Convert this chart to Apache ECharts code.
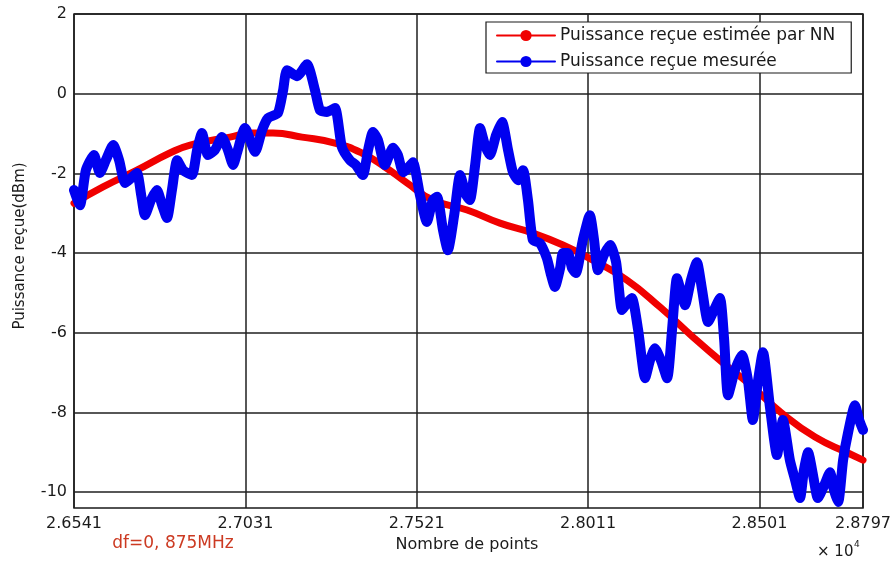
<!DOCTYPE html>
<html>
<head>
<meta charset="utf-8">
<script src="https://cdn.jsdelivr.net/npm/echarts@6/dist/echarts.min.js"></script>
<style>html,body{margin:0;padding:0;background:#fff}#c{width:895px;height:564px}</style>
</head>
<body>
<div id="c"></div>
<script>
// Tick positions (Nombre de points)
const xTicks = [26541, 27031, 27521, 28011, 28501, 28797];
const yTicks = [-10, -8, -6, -4, -2, 0, 2];

// Estimated received power (NN)
const estX = [26541, 26624, 26721, 26815, 26873, 26987, 27053, 27110, 27193, 27287, 27364, 27430, 27493, 27567, 27665, 27759, 27853, 27939, 28025, 28122, 28217, 28311, 28397, 28468, 28565, 28660, 28754, 28797];
const estY = [-2.75, -2.34, -1.92, -1.49, -1.29, -1.09, -0.99, -0.99, -1.09, -1.24, -1.49, -1.84, -2.24, -2.67, -2.92, -3.25, -3.50, -3.80, -4.18, -4.68, -5.36, -6.11, -6.76, -7.26, -8.02, -8.62, -9.02, -9.20];

// Measured received power
const mesX = [26541, 26558, 26575, 26598, 26615, 26632, 26653, 26670, 26687, 26704, 26721, 26733, 26744, 26761, 26778, 26793, 26807, 26821, 26836, 26853, 26878, 26893, 26907, 26924, 26944, 26964, 26981, 26996, 27007, 27030, 27059, 27079, 27096, 27124, 27139, 27150, 27179, 27207, 27230, 27244, 27264, 27287, 27307, 27330, 27347, 27367, 27382, 27396, 27410, 27430, 27453, 27467, 27482, 27496, 27510, 27530, 27550, 27567, 27579, 27596, 27610, 27628, 27645, 27662, 27673, 27688, 27702, 27716, 27730, 27748, 27765, 27782, 27796, 27811, 27825, 27839, 27853, 27873, 27893, 27905, 27916, 27931, 27939, 27953, 27965, 27976, 27996, 28016, 28028, 28039, 28056, 28074, 28091, 28108, 28122, 28136, 28154, 28174, 28188, 28202, 28219, 28237, 28251, 28265, 28277, 28288, 28305, 28322, 28337, 28354, 28371, 28388, 28400, 28411, 28431, 28451, 28468, 28482, 28497, 28511, 28531, 28551, 28568, 28588, 28603, 28617, 28628, 28640, 28654, 28668, 28686, 28703, 28714, 28726, 28740, 28754, 28774, 28786, 28797];
const mesY = [-2.42, -2.80, -1.92, -1.54, -1.99, -1.67, -1.29, -1.67, -2.24, -2.12, -1.99, -2.54, -3.05, -2.67, -2.42, -2.80, -3.12, -2.42, -1.67, -1.92, -2.04, -1.41, -0.99, -1.54, -1.41, -1.09, -1.41, -1.79, -1.49, -0.86, -1.46, -0.91, -0.61, -0.49, 0.09, 0.59, 0.44, 0.74, 0.09, -0.41, -0.46, -0.36, -1.34, -1.67, -1.79, -2.04, -1.41, -0.96, -1.16, -1.79, -1.36, -1.54, -1.97, -1.87, -1.72, -2.54, -3.22, -2.67, -2.59, -3.42, -3.93, -3.05, -2.04, -2.54, -2.67, -1.79, -0.86, -1.29, -1.54, -1.04, -0.71, -1.41, -1.97, -2.17, -1.92, -2.67, -3.67, -3.75, -4.13, -4.55, -4.85, -4.38, -4.00, -4.00, -4.38, -4.50, -3.67, -3.05, -3.67, -4.43, -4.05, -3.80, -4.23, -5.43, -5.26, -5.13, -5.93, -7.14, -6.69, -6.39, -6.69, -7.14, -5.93, -4.63, -4.98, -5.31, -4.68, -4.23, -4.93, -5.73, -5.43, -5.13, -6.18, -7.57, -6.94, -6.56, -7.19, -8.19, -7.19, -6.49, -7.87, -9.07, -8.19, -9.20, -9.70, -10.15, -9.45, -9.00, -9.57, -10.15, -9.83, -9.50, -9.95, -10.25, -9.20, -8.52, -7.82, -8.19, -8.44];

const seriesNames = ['Puissance reçue estimée par NN', 'Puissance reçue mesurée'];

const zip = (xs, ys) => xs.map((x, i) => [x, ys[i]]);
const FONT = 'DejaVu Sans';

const chart = echarts.init(document.getElementById('c'), null, {renderer: 'canvas'});
chart.setOption({
  animation: false,
  backgroundColor: '#fff',
  grid: {left: 74, right: 32, top: 14, bottom: 56, show: true, borderColor: '#1a1a1a', borderWidth: 1.5, backgroundColor: '#fff'},
  xAxis: {
    type: 'value', min: 26541, max: 28797,
    axisLine: {show: false},
    axisTick: {show: false, customValues: xTicks},
    axisLabel: {customValues: xTicks, formatter: v => (v / 10000).toFixed(4), color: '#1a1a1a', fontFamily: FONT, fontSize: 16, margin: 8},
    splitLine: {show: true, lineStyle: {color: '#1f1f1f', width: 1.5}}
  },
  yAxis: {
    type: 'value', min: -10.4, max: 2,
    axisLine: {show: false},
    axisTick: {show: false, customValues: yTicks},
    axisLabel: {customValues: yTicks, color: '#1a1a1a', fontFamily: FONT, fontSize: 16, margin: 7},
    splitLine: {show: true, lineStyle: {color: '#1f1f1f', width: 1.5}}
  },
  legend: {
    orient: 'vertical', left: 486, top: 22,
    padding: [5, 16, 3, 10],
    itemWidth: 58, itemHeight: 14, itemGap: 9,
    backgroundColor: '#fff', borderColor: '#1a1a1a', borderWidth: 1.2, borderRadius: 0,
    textStyle: {fontFamily: FONT, fontSize: 17, color: '#1a1a1a'},
    data: seriesNames
  },
  series: [
    {
      name: seriesNames[0], type: 'line', data: zip(estX, estY),
      smooth: true, symbol: 'circle', symbolSize: 7, showSymbol: false,
      itemStyle: {color: '#f00000'},
      lineStyle: {color: '#f00000', width: 7, cap: 'round', join: 'round'},
      z: 2
    },
    {
      name: seriesNames[1], type: 'line', data: zip(mesX, mesY),
      smooth: 0.2, symbol: 'circle', symbolSize: 8, showSymbol: false,
      itemStyle: {color: '#0000f0'},
      lineStyle: {color: '#0000f0', width: 10, cap: 'round', join: 'round'},
      z: 3
    }
  ],
  graphic: [
    {type: 'text', x: 20, y: 246, rotation: Math.PI / 2, style: {text: 'Puissance reçue(dBm)', font: '15px "DejaVu Sans"', fill: '#1a1a1a', align: 'center', verticalAlign: 'middle'}},
    {type: 'text', x: 467, y: 545, style: {text: 'Nombre de points', font: '16px "DejaVu Sans"', fill: '#1a1a1a', align: 'center', verticalAlign: 'middle'}},
    {type: 'text', x: 173, y: 544, style: {text: 'df=0, 875MHz', font: '17px "DejaVu Sans"', fill: '#cc3a22', align: 'center', verticalAlign: 'middle'}},
    {type: 'text', x: 817, y: 552, style: {text: '× 10', font: '15px "DejaVu Sans"', fill: '#1a1a1a', verticalAlign: 'middle'}},
    {type: 'text', x: 854, y: 545, style: {text: '4', font: '9px "DejaVu Sans"', fill: '#1a1a1a', verticalAlign: 'middle'}}
  ]
});
</script>
</body>
</html>
